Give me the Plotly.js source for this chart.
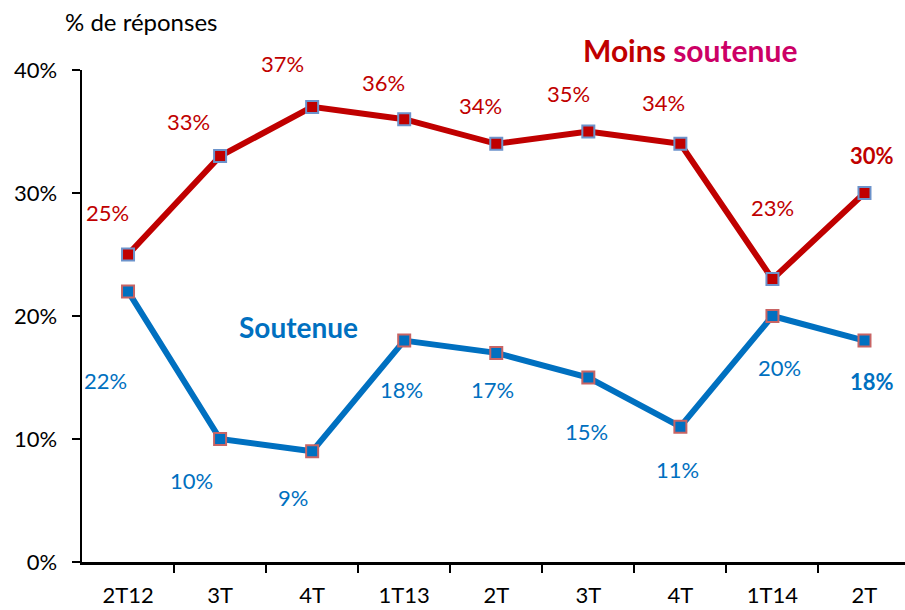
<!DOCTYPE html>
<html><head><meta charset="utf-8">
<script src="https://cdn.plot.ly/plotly-3.0.1.min.js"></script>
<style>body{margin:0;padding:0;background:#fff}#chart{width:905px;height:610px}</style>
</head><body><div id="chart"></div>
<script>
const categories = ["2T12","3T","4T","1T13","2T","3T","4T","1T14","2T"];
const moinsSoutenue = [25,33,37,36,34,35,34,23,30];
const soutenue = [22,10,9,18,17,15,11,20,18];
const yTickVals = [0,10,20,30,40];
const yTickText = ["0%","10%","20%","30%","40%"];

// label offsets in pixels (style)
const redOff = [[-21,-42],[-32,-35],[-30,-43],[-21,-37],[-16,-38],[-20,-38],[-17,-41],[0,-72],[8,-38]];
const blueOff = [[-23,89],[-29,41],[-19,46],[-3,49],[-4,37],[-2,54],[-3,43],[7,51],[8,41]];

const RED = "#C00000", BLUE = "#0070C0";
const xIdx = categories.map((c,i)=>i);
const FONT = "Lato, 'Open Sans', sans-serif";

const traces = [
  {x:xIdx, y:moinsSoutenue, type:"scatter", mode:"lines+markers",
   line:{color:RED, width:6}, marker:{symbol:"square", size:12, color:RED, line:{color:"#6C93CB", width:2}}, hoverinfo:"none"},
  {x:xIdx, y:soutenue, type:"scatter", mode:"lines+markers",
   line:{color:BLUE, width:6}, marker:{symbol:"square", size:12, color:BLUE, line:{color:"#C86464", width:2}}, hoverinfo:"none"}
];

const ann = [];
moinsSoutenue.forEach((v,i)=>{
  const last = i===categories.length-1;
  ann.push({x:i, y:v, xref:"x", yref:"y", text: last? "<b>"+v+"%</b>" : v+"%", showarrow:false,
    xshift:redOff[i][0], yshift:-redOff[i][1], font:{family:FONT, size:22, color:RED}});
});
soutenue.forEach((v,i)=>{
  const last = i===categories.length-1;
  ann.push({x:i, y:v, xref:"x", yref:"y", text: last? "<b>"+v+"%</b>" : v+"%", showarrow:false,
    xshift:blueOff[i][0], yshift:-blueOff[i][1], font:{family:FONT, size:22, color:BLUE}});
});
ann.push({xref:"paper", yref:"paper", x:0.072, y:1.098, xanchor:"center", yanchor:"middle", showarrow:false,
  text:"% de réponses", font:{family:FONT, size:24, color:"#000"}});
ann.push({xref:"paper", yref:"paper", x:0.739, y:1.041, xanchor:"center", yanchor:"middle", showarrow:false,
  text:"<b><span style='color:#C00000'>Moins </span><span style='color:#CC0066'>soutenue</span></b>",
  font:{family:FONT, size:30}});
ann.push({x:1.85, y:19.1, xref:"x", yref:"y", showarrow:false,
  text:"<b>Soutenue</b>", font:{family:FONT, size:28, color:BLUE}});

const layout = {
  width:905, height:610,
  margin:{l:82, r:0, t:70, b:48},
  paper_bgcolor:"#fff", plot_bgcolor:"#fff",
  showlegend:false,
  xaxis:{range:[-0.5,8.44], tickvals:xIdx, ticktext:categories, ticks:"", showgrid:false, zeroline:false,
    showline:true, linecolor:"#000", linewidth:2.5, ticklabelstandoff:12,
    tickfont:{family:FONT, size:22, color:"#000"},
    minor:{tickvals:[0.5,1.5,2.5,3.5,4.5,5.5,6.5,7.5], ticks:"outside", ticklen:8, tickwidth:2, tickcolor:"#000", showgrid:false},
    fixedrange:true},
  yaxis:{range:[0,40], tickvals:yTickVals, ticktext:yTickText, ticks:"outside", ticklen:8, tickwidth:2, tickcolor:"#000",
    showgrid:false, zeroline:false, showline:true, linecolor:"#000", linewidth:2.5, ticklabelstandoff:10,
    tickfont:{family:FONT, size:22, color:"#000"}, fixedrange:true},
  annotations:ann
};
Plotly.newPlot("chart", traces, layout, {displayModeBar:false, staticPlot:true});
</script></body></html>
